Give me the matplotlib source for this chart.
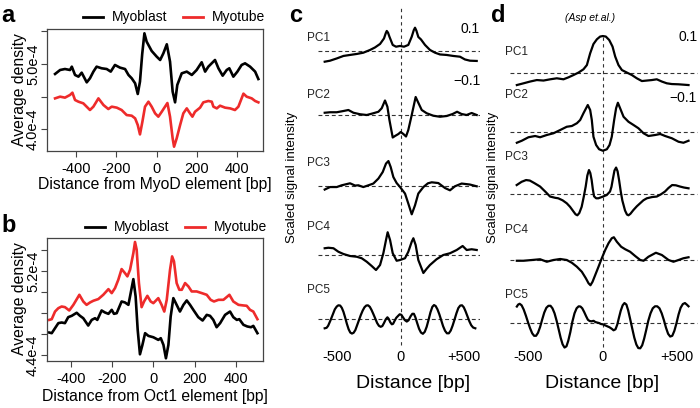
import numpy as np
import matplotlib
matplotlib.use('Agg')
from matplotlib import pyplot as plt
from matplotlib.lines import Line2D
from matplotlib import transforms

plt.rcParams['font.family'] = ['Liberation Sans', 'DejaVu Sans']

W, H = 700, 408
RED = '#ee2b2b'
FRAME = '#444444'

# ---------------- panel a (values x 1e-4) ----------------
a_blast_x = [-504, -479, -455, -430, -421, -405, -388, -372, -347, -331, -314, -298, -273, -248,
             -228, -207, -182, -157, -140, -124, -107, -94, -83, -72, -61, -50, -25, 0, 17, 33, 50,
             66, 79, 91, 102, 124, 149, 174, 198, 223, 240, 256, 289, 306, 327, 347, 360, 380, 400,
             421, 438, 463, 488, 504]
a_blast_y = [4.847, 4.908, 4.923, 4.908, 4.959, 4.832, 4.806, 4.867, 4.719, 4.781, 4.883, 4.959,
             4.934, 4.923, 4.883, 4.985, 4.944, 4.923, 4.832, 4.781, 4.704, 4.541, 4.730, 5.150,
             5.469, 5.342, 5.199, 5.112, 5.061, 5.163, 5.301, 5.036, 4.577, 4.413, 4.679, 4.857,
             4.883, 4.832, 4.908, 5.026, 4.883, 4.959, 5.061, 4.934, 4.821, 4.908, 4.934, 4.806,
             4.883, 4.985, 5.010, 4.959, 4.883, 4.770]
a_tube_x = [-504, -479, -455, -430, -418, -405, -388, -364, -331, -314, -289, -264, -240, -223,
            -198, -174, -149, -124, -107, -94, -83, -71, -58, -41, -25, -8, 8, 25, 53, 66, 79, 86,
            99, 116, 132, 149, 165, 177, 190, 215, 231, 256, 273, 281, 298, 314, 339, 364, 388, 405,
            430, 446, 471, 488, 504]
a_tube_y = [4.474, 4.500, 4.485, 4.526, 4.561, 4.449, 4.423, 4.398, 4.296, 4.347, 4.474, 4.372,
            4.311, 4.347, 4.332, 4.296, 4.219, 4.209, 4.168, 4.066, 3.923, 4.117, 4.347, 4.423,
            4.347, 4.245, 4.194, 4.270, 4.403, 4.194, 3.862, 3.735, 3.862, 4.066, 4.245, 4.321,
            4.245, 4.194, 4.270, 4.332, 4.413, 4.434, 4.423, 4.347, 4.321, 4.362, 4.332, 4.321,
            4.296, 4.347, 4.546, 4.500, 4.474, 4.434, 4.413]

# ---------------- panel b (values x 1e-4) ----------------
b_tube_x = [-505, -493, -477, -461, -445, -429, -408, -388, -359, -340, -324, -307, -291, -267,
            -243, -218, -202, -186, -170, -154, -138, -126, -113, -97, -89, -81, -70, -57, -45, -29,
            -13, 0, 24, 40, 53, 65, 81, 91, 100, 113, 126, 138, 154, 170, 186, 210, 235, 259, 278,
            294, 316, 340, 369, 388, 413, 437, 453, 469, 485, 505]
b_tube_y = [4.735, 4.742, 4.815, 4.847, 4.863, 4.857, 4.825, 4.879, 4.975, 4.911, 4.879, 4.902,
            4.918, 4.934, 4.975, 5.029, 4.991, 5.039, 5.119, 5.221, 5.183, 5.151, 5.215, 5.374,
            5.480, 5.406, 5.087, 4.857, 4.911, 4.965, 4.911, 4.895, 4.943, 4.879, 4.815, 4.927,
            5.215, 5.342, 5.295, 5.087, 5.023, 5.023, 5.087, 5.055, 5.007, 5.007, 4.991, 4.975,
            4.927, 4.911, 4.927, 4.927, 4.975, 4.911, 4.879, 4.873, 4.870, 4.831, 4.815, 4.742]
b_blast_x = [-505, -493, -477, -461, -445, -429, -413, -396, -372, -356, -340, -316, -299, -283,
             -272, -251, -235, -218, -202, -191, -178, -154, -138, -121, -110, -97, -86, -76, -65,
             -53, -40, -24, 0, 24, 36, 49, 61, 73, 84, 97, 113, 129, 146, 162, 178, 194, 218, 239,
             259, 275, 291, 307, 324, 348, 372, 388, 405, 417, 437, 456, 474, 485, 505]
b_blast_y = [4.614, 4.608, 4.656, 4.704, 4.710, 4.704, 4.761, 4.774, 4.803, 4.774, 4.751, 4.681,
             4.735, 4.751, 4.735, 4.825, 4.806, 4.793, 4.831, 4.793, 4.799, 4.911, 4.902, 4.879,
             4.991, 5.125, 4.959, 4.640, 4.406, 4.496, 4.608, 4.582, 4.569, 4.544, 4.560, 4.496,
             4.368, 4.496, 4.767, 4.943, 4.879, 4.815, 4.879, 4.921, 4.879, 4.831, 4.761, 4.729,
             4.783, 4.774, 4.735, 4.665, 4.704, 4.783, 4.815, 4.761, 4.735, 4.742, 4.688, 4.672,
             4.665, 4.678, 4.608]

# ---------------- panel c: principal components ----------------
c_pc1_x = [-600, -558, -505, -452, -400, -347, -295, -242, -203, -163, -132, -118, -110, -100,
           -89, -63, -37, -5, 26, 60, 87, 103, 113, 124, 139, 160, 192, 231, 271, 310, 362, 415,
           468, 507, 547, 600]
c_pc1_y = [-0.044, -0.040, -0.031, -0.021, -0.017, -0.013, -0.008, 0.003, 0.013, 0.027, 0.049,
           0.070, 0.079, 0.072, 0.056, 0.023, 0.016, 0.019, 0.016, 0.023, 0.056, 0.082, 0.092,
           0.080, 0.055, 0.045, 0.023, 0.003, -0.008, -0.015, -0.017, -0.021, -0.024, -0.035,
           -0.040, -0.041]
c_pc2_x = [-600, -558, -505, -452, -413, -373, -321, -268, -216, -176, -150, -124, -105, -89,
           -63, -45, -18, 0, 21, 42, 60, 87, 118, 139, 166, 205, 258, 310, 363, 410, 445, 480,
           520, 560, 600]
c_pc2_y = [0.009, 0.011, 0.011, 0.016, 0.020, 0.009, 0.003, 0.0, 0.007, 0.013, 0.027, 0.058,
           0.033, -0.020, -0.090, -0.084, -0.076, -0.068, -0.076, -0.086, -0.060, 0.0, 0.072,
           0.049, 0.020, 0.007, -0.003, -0.007, -0.004, 0.004, 0.013, 0.004, 0.000, 0.008, 0.0]
c_pc3_x = [-600, -558, -505, -466, -400, -360, -334, -295, -255, -216, -176, -142, -116, -97,
           -79, -58, -32, -5, 34, 60, 87, 113, 139, 179, 215, 245, 297, 350, 389, 428, 481, 547,
           600]
c_pc3_y = [-0.013, -0.003, -0.003, 0.004, 0.012, 0.003, 0.004, -0.003, 0.004, 0.011, 0.031,
           0.057, 0.091, 0.101, 0.077, 0.037, 0.013, -0.003, -0.029, -0.069, -0.112, -0.076,
           -0.029, -0.003, 0.012, 0.016, 0.013, -0.007, -0.016, 0.0, 0.011, 0.007, 0.0]
c_pc4_x = [-600, -571, -531, -492, -452, -400, -347, -308, -268, -229, -195, -163, -137, -116,
           -103, -84, -63, -32, -5, 34, 60, 87, 100, 118, 139, 179, 205, 231, 283, 336, 389, 442,
           489, 521, 560, 600]
c_pc4_y = [0.027, 0.029, 0.027, 0.013, 0.004, -0.004, -0.007, -0.013, -0.027, -0.044, -0.060,
           -0.040, 0.007, 0.060, 0.091, 0.060, 0.007, -0.023, -0.020, -0.013, 0.013, 0.053, 0.067,
           0.040, -0.020, -0.072, -0.055, -0.040, -0.017, 0.0, 0.007, 0.020, 0.036, 0.020, 0.023,
           0.020]
c_pc5_x = [-600, -585, -573, -555, -534, -520, -505, -492, -478, -465, -452, -439, -425, -411,
           -398, -385, -372, -358, -345, -330, -315, -300, -286, -272, -258, -244, -230, -215,
           -200, -186, -172, -158, -145, -132, -118, -105, -95, -82, -70, -60, -48, -35, -20, -8,
           5, 18, 32, 48, 62, 78, 92, 104, 116, 130, 145, 160, 175, 190, 205, 220, 235, 250, 263,
           276, 290, 305, 320, 335, 350, 365, 380, 395, 410, 425, 440, 455, 470, 484, 498, 512,
           527, 542, 557, 572, 589]
c_pc5_y = [-0.036, -0.034, -0.026, -0.005, 0.022, 0.040, 0.051, 0.056, 0.055, 0.046, 0.030,
           0.008, -0.018, -0.040, -0.053, -0.057, -0.054, -0.043, -0.025, -0.004, 0.017, 0.035,
           0.048, 0.055, 0.056, 0.050, 0.037, 0.020, 0.002, -0.015, -0.026, -0.030, -0.027,
           -0.015, 0.000, 0.008, 0.002, -0.012, -0.020, -0.018, -0.006, 0.006, 0.014, 0.020,
           0.018, 0.008, -0.003, -0.009, -0.004, 0.012, 0.022, 0.022, 0.008, -0.015, -0.038,
           -0.053, -0.058, -0.050, -0.030, -0.002, 0.028, 0.050, 0.057, 0.053, 0.040, 0.020,
           -0.004, -0.028, -0.046, -0.056, -0.056, -0.045, -0.025, -0.001, 0.024, 0.045, 0.055,
           0.056, 0.048, 0.032, 0.012, -0.008, -0.024, -0.033, -0.036]

# ---------------- panel d: principal components (Asp et al.) ----------------
d_pc1_x = [-577, -532, -488, -443, -398, -353, -309, -264, -230, -197, -163, -130, -107, -85,
           -63, -40, -18, 0, 20, 43, 65, 83, 105, 128, 161, 195, 228, 262, 295, 329, 362, 396,
           429, 463, 508, 575]
d_pc1_y = [-0.047, -0.040, -0.033, -0.027, -0.029, -0.024, -0.020, -0.024, -0.016, -0.007,
           0.003, 0.016, 0.033, 0.080, 0.117, 0.136, 0.147, 0.149, 0.147, 0.133, 0.107, 0.067,
           0.033, 0.013, 0.003, -0.007, -0.020, -0.031, -0.029, -0.027, -0.024, -0.033, -0.040,
           -0.043, -0.044, -0.047]
d_pc2_x = [-577, -544, -499, -454, -421, -376, -331, -286, -242, -208, -174, -152, -130, -101,
           -85, -74, -63, -45, -25, 0, 27, 45, 60, 76, 89, 101, 116, 139, 172, 206, 239, 273,
           306, 351, 385, 418, 463, 508, 541, 575]
d_pc2_y = [-0.043, -0.035, -0.021, -0.016, -0.021, -0.012, -0.005, 0.008, 0.021, 0.024, 0.035,
           0.048, 0.075, 0.108, 0.088, 0.048, -0.019, -0.052, -0.069, -0.075, -0.069, -0.052,
           -0.019, 0.048, 0.095, 0.117, 0.095, 0.061, 0.041, 0.028, 0.015, -0.005, -0.016,
           -0.012, -0.008, -0.016, -0.025, -0.039, -0.043, -0.035]
d_pc3_x = [-578, -545, -515, -490, -460, -421, -385, -354, -320, -299, -270, -242, -220, -198,
           -183, -171, -158, -142, -128, -115, -104, -93, -84, -75, -67, -59, -45, -30, -3, 26,
           48, 58, 66, 78, 89, 99, 109, 120, 131, 149, 162, 172, 185, 205, 228, 250, 272, 295,
           330, 362, 390, 417, 440, 465, 490, 518, 545, 575]
d_pc3_y = [0.037, 0.050, 0.057, 0.055, 0.045, 0.031, 0.010, -0.009, -0.014, -0.016, -0.024,
           -0.036, -0.050, -0.068, -0.080, -0.084, -0.075, -0.050, -0.010, 0.031, 0.075, 0.097,
           0.085, 0.057, 0.020, -0.008, -0.016, -0.016, -0.010, -0.003, 0.011, 0.030, 0.057,
           0.095, 0.107, 0.092, 0.057, 0.012, -0.025, -0.065, -0.081, -0.084, -0.078, -0.063,
           -0.048, -0.036, -0.024, -0.016, -0.011, -0.009, 0.000, 0.011, 0.025, 0.037, 0.036,
           0.031, 0.027, 0.024]
d_pc4_x = [-577, -532, -476, -421, -376, -331, -286, -242, -208, -174, -141, -114, -96, -83,
           -69, -51, -29, -7, 16, 38, 60, 74, 94, 123, 150, 183, 217, 251, 273, 306, 356, 396,
           441, 474, 508, 541, 575]
d_pc4_y = [-0.003, -0.003, 0.0, 0.003, -0.007, 0.0, 0.004, 0.0, -0.011, -0.027, -0.047, -0.073,
           -0.093, -0.101, -0.087, -0.060, -0.027, 0.007, 0.040, 0.067, 0.087, 0.091, 0.073,
           0.053, 0.043, 0.033, 0.016, 0.0, -0.003, 0.013, 0.029, 0.020, 0.0, -0.007, 0.0, 0.007,
           0.011]
d_pc5_x = [-577, -568, -558, -545, -531, -516, -502, -488, -474, -461, -448, -435, -421, -407,
           -393, -379, -365, -351, -338, -324, -310, -296, -283, -270, -257, -244, -232, -218,
           -205, -190, -176, -162, -150, -138, -125, -112, -100, -88, -75, -62, -50, -38, -25,
           -12, 0, 15, 30, 45, 60, 72, 85, 97, 108, 120, 133, 145, 158, 170, 183, 197, 211, 225,
           238, 251, 264, 277, 291, 305, 320, 335, 350, 365, 380, 395, 410, 424, 438, 452, 466,
           480, 494, 508, 522, 537, 551, 563, 575]
d_pc5_y = [0.067, 0.075, 0.078, 0.072, 0.055, 0.030, 0.004, -0.020, -0.040, -0.050, -0.050,
           -0.038, -0.015, 0.015, 0.043, 0.062, 0.070, 0.070, 0.060, 0.040, 0.010, -0.025,
           -0.058, -0.084, -0.097, -0.092, -0.070, -0.035, 0.005, 0.040, 0.060, 0.068, 0.067,
           0.060, 0.045, 0.028, 0.014, 0.009, 0.008, 0.010, 0.005, 0.003, 0.001, -0.003, -0.004,
           -0.008, -0.012, -0.016, -0.022, -0.028, -0.024, -0.005, 0.022, 0.050, 0.072, 0.081,
           0.075, 0.052, 0.018, -0.020, -0.057, -0.085, -0.099, -0.100, -0.088, -0.062, -0.027,
           0.010, 0.040, 0.060, 0.068, 0.068, 0.060, 0.040, 0.012, -0.018, -0.042, -0.053,
           -0.050, -0.030, 0.000, 0.035, 0.062, 0.077, 0.081, 0.075, 0.068]

pc_names = ['PC1', 'PC2', 'PC3', 'PC4', 'PC5']
dist_ticks = [-500, 0, 500]
dist_labels = ['-500', '0', '+500']

fig = plt.figure(figsize=(W / 100, H / 100), dpi=100)


def px_axes(l, t, r, b):
    return fig.add_axes([l / W, 1 - b / H, (r - l) / W, (b - t) / H])


def ftext(x, y, s, **kw):
    fig.text(x / W, 1 - y / H, s, **kw)


def fline(x0, x1, y, color):
    fig.add_artist(Line2D([x0 / W, x1 / W], [1 - y / H] * 2, color=color, lw=2.0))


def density_axes(ax):
    for sp in ax.spines.values():
        sp.set_color(FRAME)
        sp.set_linewidth(0.9)
    ax.tick_params(direction='out', length=4, width=0.8, color=FRAME, labelsize=10.5)
    ax.tick_params(axis='x', pad=4)
    ax.tick_params(axis='y', pad=1)


# panel a
ax = px_axes(47, 29, 263, 151)
ax.plot(a_blast_x, a_blast_y, color='black', lw=1.9, solid_joinstyle='round')
ax.plot(a_tube_x, a_tube_y, color=RED, lw=1.9, solid_joinstyle='round')
ax.set_xlim(-544, 527)
ax.set_ylim(3.669, 5.535)
ax.set_xticks([-400, -200, 0, 200, 400], ['-400', '-200', '0', '200', '400'])
ax.set_yticks([4.0, 4.5, 5.0, 5.5], ['4.0e-4', '', '5.0e-4', ''], rotation=90, va='center')
density_axes(ax)

# panel b
ax = px_axes(47, 238, 263, 361)
ax.plot(b_blast_x, b_blast_y, color='black', lw=1.9, solid_joinstyle='round')
ax.plot(b_tube_x, b_tube_y, color=RED, lw=1.9, solid_joinstyle='round')
ax.set_xlim(-516, 532)
ax.set_ylim(4.342, 5.518)
ax.set_xticks([-400, -200, 0, 200, 400], ['-400', '-200', '0', '200', '400'])
ax.set_yticks([4.4, 4.6, 4.8, 5.0, 5.2, 5.4], ['4.4e-4', '', '', '', '5.2e-4', ''],
              rotation=90, va='center')
density_axes(ax)

# labels and legends for a, b
for ycen in (90, 299):
    ftext(20, ycen, 'Average density', rotation=90, ha='center', va='center', fontsize=11.3)
ftext(155, 185, 'Distance from MyoD element [bp]', ha='center', va='center', fontsize=11.3)
ftext(155, 397, 'Distance from Oct1 element [bp]', ha='center', va='center', fontsize=11.3)
for yl, x0 in ((17, 83), (227, 85)):
    fline(x0, x0 + 20, yl, 'black')
    ftext(x0 + 29, yl, 'Myoblast', va='center', fontsize=10)
    fline(x0 + 100, x0 + 120, yl, RED)
    ftext(x0 + 129, yl, 'Myotube', va='center', fontsize=10)

ftext(1, 22, 'a', fontsize=17, fontweight='bold')
ftext(1, 232, 'b', fontsize=17, fontweight='bold')
ftext(289, 22, 'c', fontsize=17, fontweight='bold')
ftext(491, 22, 'd', fontsize=17, fontweight='bold')

# panels c, d
c_curves = [(c_pc1_x, c_pc1_y), (c_pc2_x, c_pc2_y), (c_pc3_x, c_pc3_y),
            (c_pc4_x, c_pc4_y), (c_pc5_x, c_pc5_y)]
d_curves = [(d_pc1_x, d_pc1_y), (d_pc2_x, d_pc2_y), (d_pc3_x, d_pc3_y),
            (d_pc4_x, d_pc4_y), (d_pc5_x, d_pc5_y)]

panels = [
    # axes box, xlim, baselines (img px), dash span, vline span, label x, label ys
    dict(box=(300, 0, 480, 360), xlim=(-795, 626), curves=c_curves,
         base=[50.7, 115, 186.3, 255, 319.3], span=(-650, 626), vl=(8, 345),
         lx=306.7, ly=[38.3, 95, 163.3, 226.7, 290], sx=291.7, dx=413),
    dict(box=(500, 0, 700, 360), xlim=(-690, 652), curves=d_curves,
         base=[73.3, 132, 194.3, 260, 323.3], span=(-623, 630), vl=(37, 347),
         lx=505, ly=[51.7, 95, 156.7, 230, 295], sx=493, dx=602),
]
for p in panels:
    ax = px_axes(*p['box'])
    ax.set_xlim(*p['xlim'])
    ax.set_ylim(0, 1.44)
    ax.axis('off')
    ax.axvline(0, ymin=(360 - p['vl'][1]) / 360, ymax=(360 - p['vl'][0]) / 360,
               color='#333333', lw=0.8, ls=(0, (3, 3)))
    for (xs, ys), b, name, ly in zip(p['curves'], p['base'], pc_names, p['ly']):
        off = (360 - b) / 250
        ax.plot(p['span'], [off, off], color='#333333', lw=0.8, ls=(0, (3.5, 2.5)))
        ax.plot(xs, np.array(ys) + off, color='black', lw=1.6, solid_joinstyle='round')
        ftext(p['lx'], ly, name, va='center', fontsize=8.5, color='#222222')
    tr = transforms.blended_transform_factory(ax.transData, fig.transFigure)
    for t, lab in zip(dist_ticks, dist_labels):
        ax.text(t, 1 - 356.7 / H, lab, transform=tr, ha='center', va='center', fontsize=10.5)
    ftext(p['dx'], 383, 'Distance [bp]', ha='center', va='center', fontsize=14)
    ftext(p['sx'], 177, 'Scaled signal intensity', rotation=90, ha='center', va='center',
          fontsize=9.5)

ftext(470, 29.3, '0.1', ha='center', va='center', fontsize=10)
ftext(466.7, 80.7, '\u22120.1', ha='center', va='center', fontsize=10)
ftext(688, 37, '0.1', ha='center', va='center', fontsize=10)
ftext(683, 98, '\u22120.1', ha='center', va='center', fontsize=10)
ftext(590, 18, '(Asp et.al.)', ha='center', va='center', fontsize=7.5, style='italic')

fig.savefig('out.png', dpi=100)
